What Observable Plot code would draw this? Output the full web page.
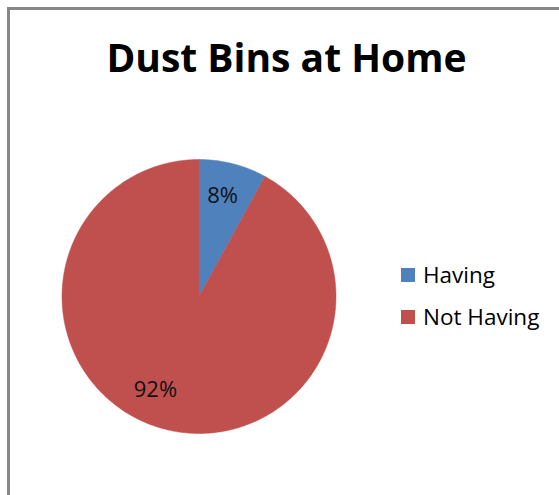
<!DOCTYPE html>
<html>
<head>
<meta charset="utf-8">
<script src="https://cdn.jsdelivr.net/npm/d3@7"></script>
<script src="https://cdn.jsdelivr.net/npm/@observablehq/plot@0.6"></script>
<style>
  html, body { margin: 0; padding: 0; background: #fff; }
  #wrap { position: relative; width: 559px; height: 495px; overflow: hidden; font-family: "Open Sans", sans-serif; }
  #frame { position: absolute; left: 7px; top: 7px; width: 700px; height: 700px; border: 3px solid #878787; box-sizing: border-box; }
  #title { position: absolute; left: 0; width: 573px; top: 37px; text-align: center; font-weight: bold; font-size: 39px; color: #000; line-height: 1; white-space: nowrap; }
  #chart { position: absolute; left: 0; top: 0; }
  .legend { position: absolute; left: 401px; font-size: 22.5px; color: #000; display: flex; align-items: center; white-space: nowrap; line-height: 1; }
  .legend .sw { width: 14px; height: 14px; margin-right: 8px; }
</style>
</head>
<body>
<div id="wrap">
  <div id="frame"></div>
  <div id="chart"></div>
  <div id="title">Dust Bins at Home</div>
</div>
<script>
const title = "Dust Bins at Home";
const categories = ["Having", "Not Having"];
const values = [8, 92];
const colors = ["#4F81BD", "#C0504D"];

const total = d3.sum(values);
const pie = d3.pie().sort(null).value(d => d)(values);

// build slice polygons in unit coordinates (angle clockwise from top)
const slices = [];
pie.forEach((p, i) => {
  const n = Math.max(2, Math.ceil((p.endAngle - p.startAngle) / 0.01));
  slices.push({cat: categories[i], x: 0, y: 0});
  for (let k = 0; k <= n; k++) {
    const a = p.startAngle + (p.endAngle - p.startAngle) * k / n;
    slices.push({cat: categories[i], x: Math.sin(a), y: Math.cos(a)});
  }
  slices.push({cat: categories[i], x: 0, y: 0});
});

const labels = pie.map((p, i) => {
  const a = (p.startAngle + p.endAngle) / 2;
  const r = 0.75;
  return {cat: categories[i], text: Math.round(values[i] / total * 100) + "%", x: r * Math.sin(a), y: r * Math.cos(a)};
});

const cx = 198.5, cy = 296, R = 137;
const chart = Plot.plot({
  width: 559,
  height: 495,
  margin: 0,
  x: {domain: [-1, 1], range: [cx - R, cx + R], axis: null},
  y: {domain: [-1, 1], range: [cy + R, cy - R], axis: null},
  color: {domain: categories, range: colors},
  style: {background: "transparent", fontFamily: "Open Sans, sans-serif"},
  marks: [
    Plot.line(slices, {x: "x", y: "y", z: "cat", fill: "cat", stroke: "cat", strokeWidth: 0.5, curve: "linear"}),
    Plot.text(labels.filter(d => d.cat === "Having"), {x: "x", y: "y", text: "text", fontSize: 22, fill: "#111", dx: -2, dy: -1}),
    Plot.text(labels.filter(d => d.cat === "Not Having"), {x: "x", y: "y", text: "text", fontSize: 22, fill: "#111", dx: -18, dy: -6})
  ]
});
document.getElementById("chart").appendChild(chart);

document.getElementById("title").textContent = title;
const legendTops = [264, 306];
categories.forEach((c, i) => {
  const el = document.createElement("div");
  el.className = "legend";
  el.style.top = legendTops[i] + "px";
  const sw = document.createElement("div");
  sw.className = "sw";
  sw.style.background = colors[i];
  el.appendChild(sw);
  const t = document.createElement("span");
  t.textContent = c;
  el.appendChild(t);
  document.getElementById("wrap").appendChild(el);
});
</script>
</body>
</html>
